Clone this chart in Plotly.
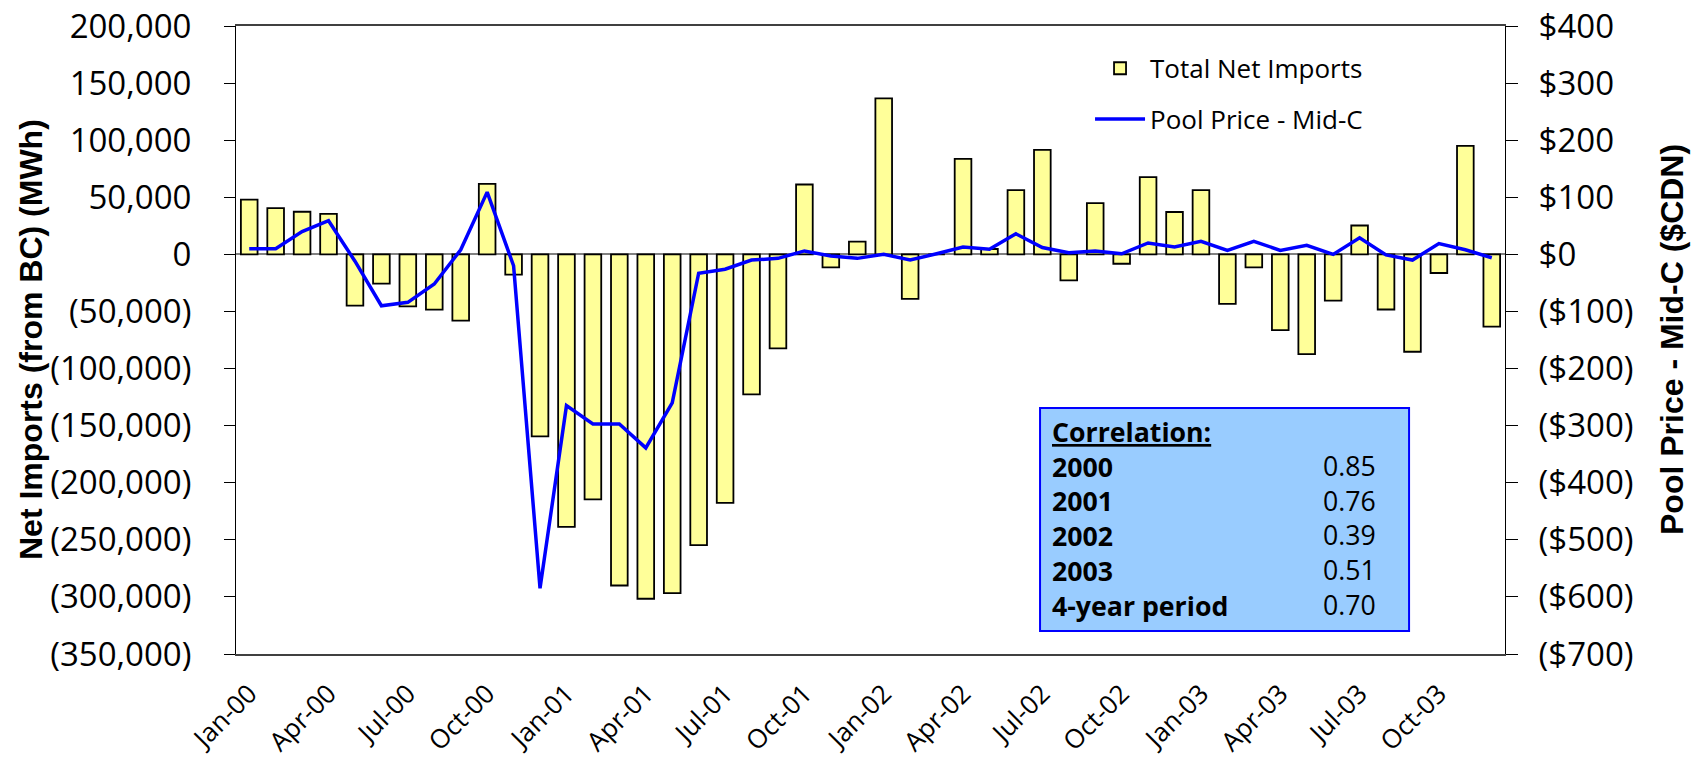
import plotly.graph_objects as go

# categories: monthly, Jan-2000 .. Dec-2003
month_names = ["Jan", "Feb", "Mar", "Apr", "May", "Jun",
               "Jul", "Aug", "Sep", "Oct", "Nov", "Dec"]
year_codes = ["00", "01", "02", "03"]
months = [f"{m}-{y}" for y in year_codes for m in month_names]

# Total net imports from BC (MWh)
net_imports = [
    48000, 40500, 37300, 35500, -44900, -25600, -45500, -48400, -58000, 61800, -17800, -159400,
    -238700, -214500, -290000, -301600, -296700, -254700, -217700, -122600, -82400, 61200, -11400, 11100,
    136700, -39000, 0, 83700, 4700, 56300, 91500, -22700, 44900, -8200, 67700, 37100,
    56300, -43400, -11400, -66400, -87400, -40500, 25300, -48300, -85300, -16300, 95000, -63200,
]

# Pool price - Mid-C ($CDN)
pool_price = [
    10, 10, 40, 59, -12, -90, -84, -52, 8, 109, -20, -585,
    -265, -297, -297, -339, -260, -33, -26, -10, -7, 6, -3, -7,
    0, -10, 1, 13, 9, 36, 12, 3, 6, 1, 20, 13,
    23, 7, 23, 7, 16, 0, 29, -1, -10, 19, 8, -6,
]

# correlation table
corr_labels = ["2000", "2001", "2002", "2003", "4-year period"]
corr_values = ["0.85", "0.76", "0.39", "0.51", "0.70"]

# axis ticks
left_ticks = [200000, 150000, 100000, 50000, 0, -50000, -100000,
              -150000, -200000, -250000, -300000, -350000]
left_ticktext = ["200,000", "150,000", "100,000", "50,000", "0", "(50,000)", "(100,000)",
                 "(150,000)", "(200,000)", "(250,000)", "(300,000)", "(350,000)"]
right_ticks = [400, 300, 200, 100, 0, -100, -200, -300, -400, -500, -600, -700]
right_ticktext = ["$400", "$300", "$200", "$100", "$0", "($100)", "($200)",
                  "($300)", "($400)", "($500)", "($600)", "($700)"]
x_ticks = months[::3]

FONT = "Open Sans"

fig = go.Figure()
fig.add_trace(go.Bar(
    x=months, y=net_imports, name="Total Net Imports",
    marker=dict(color="#FFFF99", line=dict(color="black", width=1.8)),
    legendgroup="bars",
))
fig.add_trace(go.Scatter(
    x=months, y=pool_price, name="Pool Price - Mid-C", mode="lines",
    line=dict(color="#0000FF", width=3.5), yaxis="y2",
    legendgroup="line",
))

fig.update_layout(
    width=1696, height=769,
    template="none",
    margin=dict(l=236, r=191, t=26, b=115),
    paper_bgcolor="white", plot_bgcolor="white",
    font=dict(family=FONT, color="black"),
    bargap=0.37,
    showlegend=True,
    legend=dict(x=0.673, y=0.97, xanchor="left", yanchor="top",
                font=dict(family=FONT, size=26), itemwidth=50,
                tracegroupgap=14, bgcolor="rgba(0,0,0,0)"),
    xaxis=dict(
        type="category", tickmode="array", tickvals=x_ticks, ticktext=x_ticks,
        tickangle=-45, tickfont=dict(size=26), ticks="",
        showline=True, linecolor="#404040", linewidth=2, mirror=True,
        showgrid=False, zeroline=False, automargin=False,
        ticklabelstandoff=12,
    ),
    yaxis=dict(
        range=[-350000, 200000], tickmode="array", tickvals=left_ticks,
        ticktext=left_ticktext, tickfont=dict(size=33),
        ticks="outside", ticklen=11, tickcolor="black", tickwidth=1,
        showline=True, linecolor="black", linewidth=1,
        showgrid=False, zeroline=True, zerolinecolor="#808080", zerolinewidth=2,
        automargin=False, ticklabelstandoff=26,
    ),
    yaxis2=dict(
        overlaying="y", side="right",
        range=[-700, 400], tickmode="array", tickvals=right_ticks,
        ticktext=right_ticktext, tickfont=dict(size=33),
        ticks="outside", ticklen=12, tickcolor="black", tickwidth=1,
        showline=True, linecolor="black", linewidth=1,
        showgrid=False, zeroline=False, automargin=False,
        ticklabelstandoff=14,
    ),
)

# axis titles
fig.add_annotation(text="<b>Net Imports (from BC) (MWh)</b>", textangle=-90,
                   xref="paper", yref="paper", x=0, y=0.5, xshift=-205,
                   xanchor="center", yanchor="middle",
                   showarrow=False, font=dict(family="Liberation Sans", size=32))
fig.add_annotation(text="<b>Pool Price - Mid-C ($CDN)</b>", textangle=-90,
                   xref="paper", yref="paper", x=1, y=0.5, xshift=167,
                   xanchor="center", yanchor="middle",
                   showarrow=False, font=dict(family="Liberation Sans", size=32))

# correlation box
fig.add_shape(type="rect", xref="paper", yref="paper",
              x0=0.6336, x1=0.9244, y0=0.0366, y1=0.3917,
              fillcolor="#99CCFF", line=dict(color="#0000FF", width=2), layer="above")
label_block = "<b><u>Correlation:</u></b><br>" + "<br>".join(f"<b>{s}</b>" for s in corr_labels)
value_block = "<br>".join(corr_values)
fig.add_annotation(text=label_block, align="left", xref="paper", yref="paper",
                   x=0.6415, y=0.2158, xanchor="left", yanchor="middle",
                   showarrow=False, font=dict(size=26.7))
fig.add_annotation(text=value_block, align="right", xref="paper", yref="paper",
                   x=0.900, y=0.1887, xanchor="right", yanchor="middle",
                   showarrow=False, font=dict(size=26.7))

fig.write_html("out.html", config={"displayModeBar": False},
               post_script="document.body.style.margin='0';")
